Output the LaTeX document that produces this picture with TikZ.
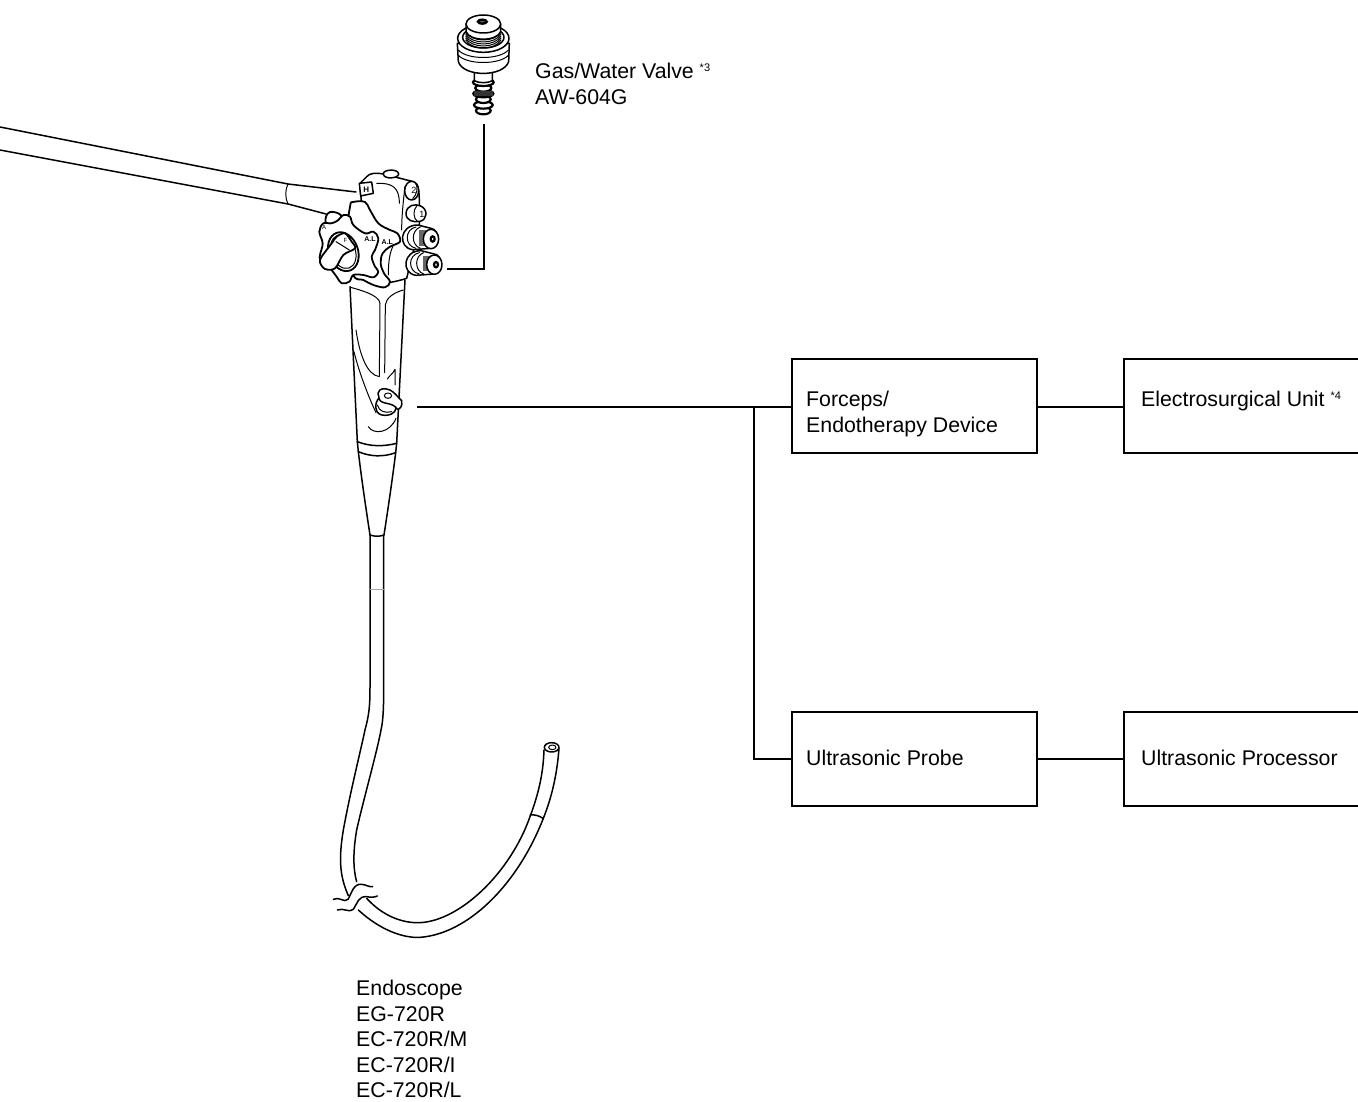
\documentclass[tikz,border=0pt]{standalone}
\usepackage{fontspec}
\setmainfont{Liberation Sans}
\usepackage{tikz}
\usetikzlibrary{arrows.meta,positioning,calc}

\tikzset{
  unitbox/.style={draw, line width=1.5pt, minimum width=245pt, minimum height=94pt, inner sep=0pt, outer sep=0pt},
  label/.style={inner sep=0pt, align=left, font=\fontsize{21.3}{25.5}\selectfont},
  wire/.style={line width=1.6pt},
  scope line/.style={line width=1.5pt, line join=round, line cap=round},
  thin line/.style={line width=1pt, line join=round, line cap=round},
  tiny mark/.style={inner sep=0pt, font=\bfseries\fontsize{7}{7}\selectfont},
}
\newcommand{\noteref}[1]{\raisebox{7pt}{\fontsize{11}{11}\selectfont *#1}}

\begin{document}
\begin{tikzpicture}[x=1pt, y=-1pt]
  \useasboundingbox (0,0) rectangle (1358,1102);

  % Define coordinates for nodes
  \node[unitbox, anchor=north west] (FD) at (792,359) {};
  \node[unitbox, anchor=north west, minimum width=236pt] (ES) at (1124,359) {};
  \node[unitbox, anchor=north west] (UP) at (792,712) {};
  \node[unitbox, anchor=north west, minimum width=236pt] (UC) at (1124,712) {};
  \node[label, anchor=west] (FDt) at (806,414) {Forceps/\\Endotherapy Device};
  \node[label, anchor=west] (ESt) at (1141,401) {Electrosurgical Unit \noteref{4}};
  \node[label, anchor=west] (UPt) at (806,758) {Ultrasonic Probe};
  \node[label, anchor=west] (UCt) at (1141,758) {Ultrasonic Processor};
  \node[label, anchor=west] (GW) at (535,84) {Gas/Water Valve \noteref{3}\\AW-604G};
  \node[label, anchor=north west] (EN) at (356,980) {Endoscope\\EG-720R\\EC-720R/M\\EC-720R/I\\EC-720R/L};
  \coordinate (port) at (417,407);
  \coordinate (branch) at (754,407);
  \coordinate (valvetop) at (484,124);
  \coordinate (valveport) at (447,269);

  % Draw connectors between nodes
  \draw[wire] (port) -- (branch) -- (branch -| FD.west);
  \draw[wire] (branch) |- (UP.west);
  \draw[wire] (FD.east |- branch) -- (ES.west |- branch);
  \draw[wire] (UP.east |- UC.west) -- (UC.west);
  \draw[wire] (valvetop) |- (valveport);

  % Universal cord
  \draw[scope line] (0,127) -- (288,184) -- (356,192);
  \draw[scope line] (0,150) -- (288,204) -- (326,214);
  \draw[thin line] (288,184) .. controls (285,190) and (285,198) .. (288,204);

  % Insertion tube
  \begin{scope}[shift={(320,730)}, scale=1/3]
    \draw[scope line] (150,-585) -- (150,-129) .. controls (150,-70) and (147,-45) .. (135,0)
      .. controls (120,70) and (90,190) .. (70,300) .. controls (55,390) and (60,440) .. (85,497);
    \draw[scope line] (191,-585) -- (191,-129) .. controls (191,-70) and (190,-30) .. (183,0)
      .. controls (170,70) and (130,210) .. (110,300) .. controls (98,370) and (100,420) .. (110,455);
    \draw[thin line, black!35] (150,-423) -- (191,-423);
    \draw[scope line] (140,505) .. controls (190,560) and (250,580) .. (300,578)
      .. controls (420,572) and (570,430) .. (630,260) .. controls (660,180) and (670,120) .. (672,60);
    \draw[scope line] (115,540) .. controls (180,600) and (250,625) .. (300,622)
      .. controls (440,612) and (590,470) .. (670,265) .. controls (700,190) and (712,120) .. (717,55);
    \draw[scope line] (630,255) .. controls (645,253) and (660,258) .. (670,266);
    \draw[scope line] (695,52) ellipse[x radius=22, y radius=14];
    \draw[thin line] (697,52) ellipse[x radius=11, y radius=7];
    \draw[scope line] (40,508) .. controls (58,498) and (72,520) .. (84,508)
      .. controls (95,490) and (100,460) .. (125,463) .. controls (138,464) and (148,472) .. (158,470);
    \draw[scope line] (52,540) .. controls (70,532) and (88,550) .. (100,538)
      .. controls (112,520) and (115,498) .. (140,500) .. controls (150,502) and (162,503) .. (172,498);
  \end{scope}

  % Grip and strain relief
  \begin{scope}[shift={(340,280)}, scale=1/3]
    \draw[scope line] (30,20) -- (52,485);
    \draw[scope line] (195,0) -- (170,490);
    \draw[scope line] (52,485) .. controls (90,500) and (130,500) .. (170,490);
    \draw[scope line] (52,485) -- (55,515) .. controls (90,530) and (130,532) .. (167,518) -- (170,490);
    \draw[scope line] (55,515) .. controls (65,600) and (80,700) .. (90,765);
    \draw[scope line] (167,518) .. controls (157,600) and (142,700) .. (132,765);
    \draw[scope line] (90,765) .. controls (105,770) and (118,770) .. (132,765);
    \draw[thin line] (32,22) .. controls (60,30) and (118,45) .. (120,70) -- (118,288);
    \draw[thin line] (190,30) .. controls (160,38) and (138,55) .. (136,75) -- (134,278);
    \draw[thin line] (48,150) .. controls (58,220) and (80,285) .. (118,290);
    \draw[thin line] (42,215) .. controls (55,270) and (85,350) .. (108,398);
    \draw[thin line] (142,297) .. controls (150,285) and (160,280) .. (165,268) -- (165,315);
    \draw[thin line] (85,440) .. controls (100,465) and (150,460) .. (168,415);
    % Forceps port
    \draw[scope line, fill=white] (108,385) .. controls (105,360) and (118,350) .. (130,352)
      -- (168,365) .. controls (172,390) and (165,405) .. (135,406) .. controls (120,406) and (110,400) .. (108,385) -- cycle;
    \draw[scope line, fill=white] (114,340) .. controls (118,322) and (135,325) .. (150,330)
      .. controls (165,338) and (170,348) .. (185,362) .. controls (188,378) and (180,388) .. (172,388)
      .. controls (160,365) and (125,375) .. (118,358) -- cycle;
    \draw[thin line] (144,347) ellipse[x radius=11, y radius=8];
    \draw[thin line] (112,375) .. controls (118,395) and (135,400) .. (155,395);
  \end{scope}

  % Control section
  \begin{scope}[shift={(270,150)}, scale=1/3]
    % Body
    \draw[scope line, fill=white] (270,100) -- (290,80) .. controls (300,68) and (320,68) .. (340,72)
      -- (430,95) .. controls (445,100) and (448,120) .. (448,160) -- (448,230)
      -- (410,385) .. controls (380,395) and (330,405) .. (300,400) -- (280,240) -- cycle;
    \draw[scope line, fill=white] (340,72) .. controls (338,58) and (385,55) .. (386,72)
      .. controls (386,85) and (342,90) .. (340,72) -- cycle;
    \draw[thin line] (320,100) .. controls (370,98) and (388,115) .. (388,160);
    \draw[thin line] (405,110) .. controls (400,150) and (395,200) .. (395,240);
    \draw[thin line] (355,375) .. controls (355,330) and (360,290) .. (385,265);
    % Suction and air buttons
    \draw[scope line, fill=white] (425,122) ellipse[x radius=21, y radius=28];
    \draw[thin line] (437,100) .. controls (446,112) and (440,135) .. (428,146);
    \node[inner sep=0pt, font=\fontsize{9}{9}\selectfont] (btntwo) at (432,122) {2};
    \draw[scope line, fill=white] (408,190) .. controls (410,165) and (435,160) .. (452,168)
      .. controls (475,178) and (472,210) .. (450,214) .. controls (430,218) and (408,212) .. (408,190) -- cycle;
    \draw[thin line] (440,168) .. controls (428,182) and (430,205) .. (442,214);
    \node[inner sep=0pt, font=\fontsize{9}{9}\selectfont] (btnone) at (456,192) {1};
    % Cylinders
    \foreach \vx/\vy in {453/263, 463/340} {
      \draw[scope line, fill=white] (\vx-10,\vy-38) .. controls (\vx-65,\vy-38) and (\vx-70,\vy+30) .. (\vx-25,\vy+36)
        -- (\vx+30,\vy+32) .. controls (\vx+55,\vy+20) and (\vx+55,\vy-25) .. (\vx+30,\vy-28) -- cycle;
      \draw[thin line] (\vx-15,\vy-32) .. controls (\vx-50,\vy-25) and (\vx-50,\vy+25) .. (\vx-15,\vy+32);
      \draw[thin line] (\vx-2,\vy-32) .. controls (\vx-30,\vy-22) and (\vx-30,\vy+22) .. (\vx-2,\vy+32);
      \fill[black!60] (\vx-5,\vy-22) rectangle (\vx+16,\vy+24);
      \draw[scope line, fill=white] (\vx+30,\vy+4) ellipse[x radius=23, y radius=29];
      \draw[line width=2.2pt] (\vx+35,\vy+4) ellipse[x radius=6, y radius=8];
    }
    % Hood button
    \draw[scope line, fill=white] (268,100) -- (305,96) -- (310,130) -- (272,138) -- cycle;
    \node[inner sep=0pt, font=\bfseries\fontsize{8}{8}\selectfont] (hood) at (289,120) {H};
  \end{scope}

  % Knobs
  \begin{scope}[shift={(310,200)}, scale=1/3]
    \draw[line width=1.8pt, fill=white] plot[smooth cycle, tension=.6] coordinates {
      (48,50) (60,36) (85,40) (95,52) (80,66) (50,72)};
    \draw[line width=1.8pt, line join=round, fill=white] plot[smooth cycle, tension=.6] coordinates {
      (120,20) (130,6) (165,6) (180,30) (205,70) (240,90) (262,100) (270,125) (240,140) (218,160)
      (212,190) (222,220) (240,245) (225,262) (190,255) (160,240) (130,225) (110,120)};
    \draw[line width=1.8pt, line join=round, fill=white] plot[smooth cycle, tension=.6] coordinates {
      (100,45) (120,50) (130,75) (165,100) (190,95) (205,115) (195,150) (185,170) (195,200) (205,215)
      (190,232) (160,225) (130,225) (118,245) (95,250) (80,230) (60,205) (32,180) (30,165) (38,130)
      (28,95) (40,70) (65,70) (85,60)};
    \draw[line width=1.8pt, fill=white, rotate around={20:(100,155)}] (100,155) ellipse[x radius=44, y radius=60];
    \draw[thin line, rotate around={20:(100,155)}] (100,155) ellipse[x radius=36, y radius=52];
    \draw[line width=1.8pt, line join=round, fill=white] plot[smooth cycle, tension=.55] coordinates {
      (35,170) (65,130) (80,110) (105,100) (125,125) (135,145) (100,165) (75,205) (45,207) (30,187)};
    \draw[thin line] (78,125) -- (118,150);
    \node[tiny mark, font=\fontsize{6}{6}\selectfont] (lever) at (106,122) {F};
    \node[tiny mark] (udone) at (180,118) {A.L};
    \node[tiny mark] (udtwo) at (232,125) {A.L};
    \node[tiny mark, font=\fontsize{6}{6}\selectfont] (rlone) at (42,82) {A};
  \end{scope}

  % Gas/water valve
  \begin{scope}[shift={(430,0)}, scale=1/3]
    \foreach \by/\rx in {332/22, 315/28, 298/22, 281/30, 264/24, 247/31} {
      \draw[line width=2.2pt, fill=white] (160,\by) ellipse[x radius=\rx, y radius=11];
    }
    \fill[black!80] (132,272) rectangle (188,288);
    \draw[scope line, fill=white] (133,210) -- (133,242) .. controls (145,250) and (175,250) .. (187,242) -- (187,210) -- cycle;
    \draw[scope line, fill=white] (82,130) -- (85,185) .. controls (100,232) and (220,232) .. (236,185) -- (238,130) -- cycle;
    \draw[scope line, fill=white] (160,115) ellipse[x radius=77, y radius=42];
    \draw[thin line] (85,150) .. controls (110,180) and (210,180) .. (235,150);
    \draw[thin line] (84,165) .. controls (110,195) and (210,195) .. (236,165);
    \draw[scope line, fill=white] (160,112) ellipse[x radius=62, y radius=32];
    \foreach \ry in {96,102,108,114,120} {
      \draw[thin line] (107,\ry) .. controls (125,\ry+32) and (195,\ry+32) .. (213,\ry);
    }
    \draw[scope line, fill=white] (108,72) -- (108,95) .. controls (120,125) and (200,125) .. (212,95) -- (212,72) -- cycle;
    \draw[scope line, fill=white] (160,72) ellipse[x radius=52, y radius=27];
    \draw[line width=2.4pt, fill=black!60] (157,65) ellipse[x radius=13, y radius=6];
  \end{scope}
\end{tikzpicture}
\end{document}
